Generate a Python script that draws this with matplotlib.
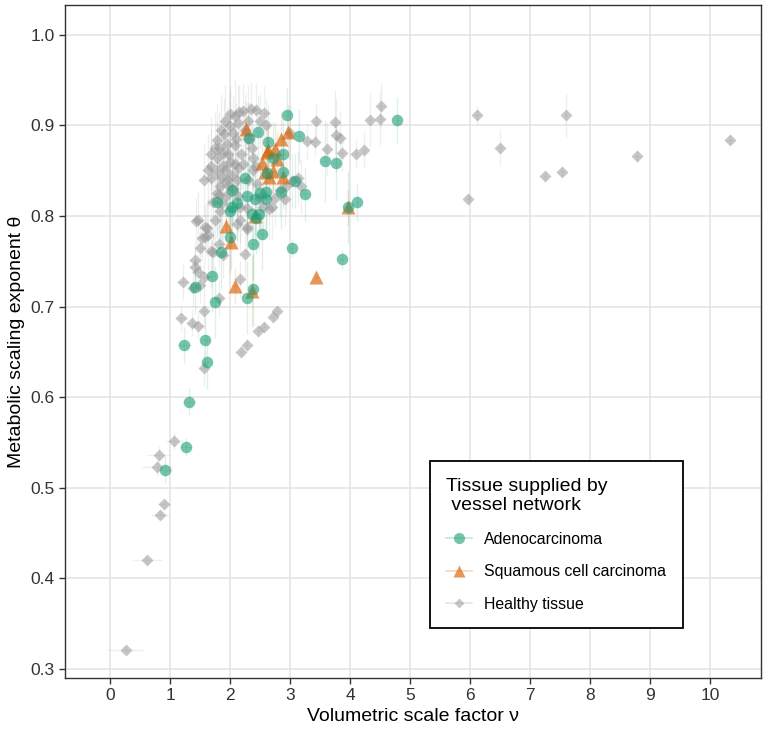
import numpy as np
import matplotlib
matplotlib.use("Agg")
import matplotlib.pyplot as plt
from matplotlib.lines import Line2D
from matplotlib.colors import to_rgba

plt.rcParams['font.family'] = ['Liberation Sans', 'DejaVu Sans']

# Healthy tissue
healthy_x = [3.75, 4.52, 4.33, 4.50, 3.76, 3.83, 3.86, 4.10, 4.24, 6.12,
             6.50, 7.60, 7.25, 7.54, 5.97, 8.78, 10.33, 3.44, 3.28, 3.41,
             3.61, 3.00, 3.14, 3.19, 3.03, 2.94, 2.92, 2.83, 2.56, 2.75,
             2.78, 2.71, 2.56, 2.47, 2.28, 2.19, 1.56, 1.81, 1.57, 1.19,
             1.36, 1.47, 1.22, 1.39, 1.50, 2.17, 1.42, 1.42, 1.47, 1.56,
             1.50, 1.82, 1.71, 1.89, 2.25, 1.58, 1.44, 1.58, 1.53, 2.12,
             2.28, 1.07, 0.81, 0.79, 0.90, 0.83, 0.62, 0.26, 1.47, 1.61,
             2.22, 2.44, 2.08, 2.14, 2.00, 1.78, 1.81, 1.69, 1.78, 1.97,
             2.08, 2.19, 2.36, 2.39, 2.22, 2.08, 1.89, 1.69, 2.42, 1.64,
             1.78, 1.92, 2.14, 2.39, 1.56, 1.69, 1.86, 1.83, 1.97, 2.11,
             1.81, 1.94, 2.14, 1.86, 1.83, 2.17, 2.28, 1.75, 2.17, 2.28,
             1.64, 1.69, 1.90, 1.95, 2.05, 1.85, 2.10, 1.92, 2.25, 2.30,
             1.88, 2.00, 2.03, 1.75, 2.15, 2.35, 2.50, 2.60, 2.30, 2.00,
             1.95, 2.05, 2.30, 2.45, 2.50, 2.55, 1.72, 1.78, 2.65, 2.70]
healthy_y = [0.904, 0.922, 0.906, 0.907, 0.889, 0.886, 0.870, 0.869, 0.873, 0.912,
             0.875, 0.911, 0.844, 0.849, 0.819, 0.866, 0.884, 0.905, 0.883, 0.882,
             0.874, 0.892, 0.842, 0.833, 0.839, 0.833, 0.819, 0.829, 0.914, 0.820,
             0.695, 0.689, 0.678, 0.673, 0.658, 0.650, 0.632, 0.709, 0.695, 0.687,
             0.682, 0.679, 0.727, 0.720, 0.724, 0.730, 0.751, 0.744, 0.738, 0.733,
             0.765, 0.769, 0.760, 0.757, 0.758, 0.777, 0.795, 0.788, 0.776, 0.791,
             0.786, 0.552, 0.536, 0.523, 0.482, 0.470, 0.420, 0.321, 0.796, 0.787,
             0.916, 0.917, 0.910, 0.903, 0.899, 0.884, 0.875, 0.869, 0.864, 0.869,
             0.878, 0.869, 0.875, 0.864, 0.857, 0.857, 0.855, 0.855, 0.855, 0.851,
             0.849, 0.851, 0.853, 0.851, 0.840, 0.842, 0.842, 0.833, 0.834, 0.840,
             0.823, 0.822, 0.822, 0.814, 0.805, 0.810, 0.809, 0.796, 0.796, 0.788,
             0.779, 0.761, 0.890, 0.880, 0.892, 0.895, 0.885, 0.905, 0.895, 0.905,
             0.870, 0.860, 0.845, 0.875, 0.915, 0.918, 0.905, 0.900, 0.885, 0.913,
             0.840, 0.830, 0.840, 0.835, 0.820, 0.810, 0.815, 0.825, 0.808, 0.810]
healthy_xerr = [0.05, 0.04, 0.04, 0.04, 0.05, 0.05, 0.05, 0.04, 0.04, 0.05,
                0.04, 0.04, 0.03, 0.03, 0.03, 0.03, 0.03, 0.05, 0.05, 0.05,
                0.05, 0.05, 0.05, 0.05, 0.05, 0.05, 0.05, 0.05, 0.05, 0.05,
                0.04, 0.04, 0.04, 0.04, 0.04, 0.04, 0.08, 0.08, 0.08, 0.10,
                0.10, 0.08, 0.12, 0.10, 0.08, 0.05, 0.10, 0.10, 0.10, 0.08,
                0.08, 0.08, 0.08, 0.08, 0.06, 0.08, 0.08, 0.08, 0.08, 0.06,
                0.06, 0.15, 0.20, 0.25, 0.10, 0.15, 0.25, 0.30, 0.08, 0.08,
                0.06, 0.06, 0.06, 0.06, 0.06, 0.06, 0.06, 0.06, 0.06, 0.06,
                0.06, 0.06, 0.06, 0.06, 0.06, 0.06, 0.06, 0.06, 0.06, 0.06,
                0.06, 0.06, 0.06, 0.06, 0.08, 0.06, 0.06, 0.06, 0.06, 0.06,
                0.06, 0.06, 0.06, 0.06, 0.06, 0.06, 0.06, 0.08, 0.06, 0.06,
                0.08, 0.08, 0.06, 0.06, 0.06, 0.06, 0.06, 0.06, 0.06, 0.06,
                0.06, 0.06, 0.06, 0.06, 0.06, 0.06, 0.06, 0.06, 0.06, 0.06,
                0.06, 0.06, 0.06, 0.06, 0.06, 0.06, 0.08, 0.08, 0.06, 0.06]
healthy_yerr = [0.035, 0.025, 0.030, 0.030, 0.040, 0.030, 0.020, 0.015, 0.020, 0.010,
                0.020, 0.025, 0.005, 0.005, 0.005, 0.006, 0.005, 0.020, 0.020, 0.015,
                0.030, 0.030, 0.030, 0.030, 0.030, 0.030, 0.030, 0.030, 0.030, 0.030,
                0.005, 0.005, 0.005, 0.005, 0.006, 0.006, 0.020, 0.020, 0.020, 0.015,
                0.015, 0.015, 0.020, 0.020, 0.020, 0.020, 0.020, 0.020, 0.020, 0.020,
                0.025, 0.025, 0.025, 0.025, 0.025, 0.025, 0.025, 0.025, 0.025, 0.025,
                0.025, 0.010, 0.010, 0.010, 0.004, 0.004, 0.004, 0.003, 0.030, 0.030,
                0.030, 0.030, 0.040, 0.040, 0.040, 0.040, 0.040, 0.040, 0.040, 0.040,
                0.040, 0.040, 0.035, 0.035, 0.040, 0.040, 0.040, 0.040, 0.035, 0.040,
                0.040, 0.040, 0.040, 0.035, 0.040, 0.040, 0.040, 0.040, 0.040, 0.040,
                0.040, 0.040, 0.040, 0.040, 0.040, 0.040, 0.035, 0.040, 0.040, 0.035,
                0.040, 0.040, 0.040, 0.040, 0.040, 0.040, 0.040, 0.040, 0.040, 0.040,
                0.040, 0.040, 0.040, 0.040, 0.030, 0.030, 0.030, 0.030, 0.040, 0.030,
                0.040, 0.040, 0.040, 0.035, 0.035, 0.035, 0.040, 0.040, 0.035, 0.035]

# Adenocarcinoma
adeno_x = [2.955, 2.47, 2.32, 3.155, 2.64, 2.89, 3.58, 3.76, 2.72, 2.88,
           2.62, 3.09, 2.25, 2.04, 3.25, 2.28, 2.50, 2.60, 2.42, 2.60,
           2.85, 1.79, 2.12, 2.04, 2.00, 2.36, 2.49, 4.12, 3.97, 2.43,
           2.53, 2.00, 4.79, 3.86, 2.39, 1.85, 3.04, 1.70, 1.42, 2.39,
           2.28, 1.75, 1.24, 1.59, 1.61, 1.31, 1.26, 0.92]
adeno_y = [0.911, 0.893, 0.886, 0.888, 0.882, 0.868, 0.861, 0.858, 0.864, 0.849,
           0.847, 0.839, 0.842, 0.829, 0.824, 0.822, 0.825, 0.826, 0.819, 0.819,
           0.826, 0.816, 0.814, 0.810, 0.805, 0.802, 0.802, 0.815, 0.810, 0.798,
           0.780, 0.777, 0.906, 0.752, 0.769, 0.760, 0.765, 0.734, 0.722, 0.719,
           0.710, 0.705, 0.658, 0.663, 0.639, 0.595, 0.545, 0.520]
adeno_xerr = [0.05, 0.05, 0.05, 0.05, 0.05, 0.05, 0.05, 0.05, 0.05, 0.05,
              0.05, 0.05, 0.05, 0.05, 0.05, 0.05, 0.05, 0.05, 0.05, 0.05,
              0.05, 0.06, 0.05, 0.05, 0.05, 0.05, 0.05, 0.04, 0.04, 0.05,
              0.05, 0.05, 0.04, 0.04, 0.05, 0.06, 0.04, 0.06, 0.08, 0.05,
              0.05, 0.06, 0.12, 0.08, 0.06, 0.10, 0.10, 0.12]
adeno_yerr = [0.030, 0.040, 0.040, 0.030, 0.040, 0.040, 0.045, 0.040, 0.040, 0.040,
              0.040, 0.030, 0.040, 0.040, 0.030, 0.040, 0.040, 0.040, 0.040, 0.040,
              0.040, 0.040, 0.040, 0.040, 0.040, 0.040, 0.040, 0.020, 0.040, 0.040,
              0.040, 0.040, 0.025, 0.010, 0.040, 0.040, 0.010, 0.040, 0.030, 0.040,
              0.040, 0.040, 0.020, 0.030, 0.030, 0.015, 0.010, 0.015]

# Squamous cell carcinoma
squam_x = [2.27, 2.96, 2.85, 2.64, 2.75, 2.79, 2.54, 2.72, 2.65, 2.88,
           2.42, 1.94, 3.97, 2.61, 2.58, 2.01, 2.08, 2.36, 3.44]
squam_y = [0.896, 0.893, 0.885, 0.873, 0.874, 0.863, 0.858, 0.850, 0.843, 0.843,
           0.800, 0.789, 0.810, 0.871, 0.849, 0.771, 0.723, 0.717, 0.733]
squam_xerr = [0.05, 0.05, 0.05, 0.05, 0.05, 0.05, 0.05, 0.05, 0.05, 0.05,
              0.05, 0.05, 0.04, 0.05, 0.05, 0.05, 0.05, 0.05, 0.04]
squam_yerr = [0.030, 0.030, 0.030, 0.030, 0.030, 0.030, 0.030, 0.030, 0.030, 0.030,
              0.030, 0.030, 0.020, 0.030, 0.030, 0.030, 0.020, 0.040, 0.005]

x_ticks = [0, 1, 2, 3, 4, 5, 6, 7, 8, 9, 10]
y_ticks = [0.3, 0.4, 0.5, 0.6, 0.7, 0.8, 0.9, 1.0]

green = '#1B9E77'
orange = '#D95F02'
grey = '#999999'

fig = plt.figure(figsize=(7.65, 7.29), dpi=100)
ax = fig.add_axes([0.085, 0.07, 0.9098, 0.9232])

for xs, ys, xe, ye, col, mk, ms, a in [
        (healthy_x, healthy_y, healthy_xerr, healthy_yerr, grey, 'D', 6.3, 0.55),
        (squam_x, squam_y, squam_xerr, squam_yerr, orange, '^', 9.5, 0.65),
        (adeno_x, adeno_y, adeno_xerr, adeno_yerr, green, 'o', 8.3, 0.6)]:
    ax.errorbar(xs, ys, xerr=xe, yerr=ye, fmt='none', ecolor=to_rgba(col, 0.15),
                elinewidth=1.0, capsize=0, zorder=2)
    ax.plot(xs, ys, linestyle='none', marker=mk, markersize=ms,
            markerfacecolor=to_rgba(col, a), markeredgecolor='none', zorder=3)

ax.set_xlim(-0.75, 10.85)
ax.set_ylim(0.29, 1.033)
ax.set_xticks(x_ticks)
ax.set_yticks(y_ticks)
ax.set_yticklabels(['%.1f' % v for v in y_ticks])
ax.grid(True, color='#e3e3e3', linewidth=1.1)
ax.set_axisbelow(True)
ax.tick_params(labelsize=12.5, labelcolor='#333333', length=4, width=1, color='#333333')
for s in ax.spines.values():
    s.set_color('#333333')
    s.set_linewidth(1.0)

ax.set_xlabel('Volumetric scale factor ν', fontsize=14, labelpad=3)
ax.set_ylabel('Metabolic scaling exponent θ', fontsize=14, labelpad=4)

handles = [
    Line2D([], [], color=to_rgba(green, 0.25), lw=1.2, marker='o', markersize=8,
           markerfacecolor=to_rgba(green, 0.6), markeredgecolor='none'),
    Line2D([], [], color=to_rgba(orange, 0.25), lw=1.2, marker='^', markersize=9,
           markerfacecolor=to_rgba(orange, 0.65), markeredgecolor='none'),
    Line2D([], [], color=to_rgba(grey, 0.25), lw=1.2, marker='D', markersize=5,
           markerfacecolor=to_rgba(grey, 0.55), markeredgecolor='none'),
]
leg = ax.legend(handles, ['Adenocarcinoma', 'Squamous cell carcinoma', 'Healthy tissue'],
                title='Tissue supplied by\n vessel network', loc='lower left',
                bbox_to_anchor=(0.524, 0.074), borderaxespad=0, fontsize=11.4,
                title_fontsize=14, frameon=True, fancybox=False, edgecolor='black',
                framealpha=1, alignment='left', handlelength=1.6, labelspacing=1.1,
                borderpad=1.05, handletextpad=0.8)
leg.get_frame().set_linewidth(1.3)

fig.savefig('out.png', dpi=100)
